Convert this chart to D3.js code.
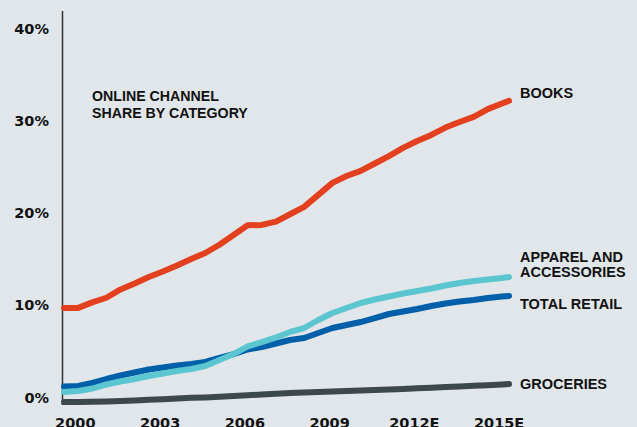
<!DOCTYPE html>
<html>
<head>
<meta charset="utf-8">
<script src="https://cdn.jsdelivr.net/npm/d3@7"></script>
<style>
  html, body { margin: 0; padding: 0; background: #e1e6ea; }
  svg { display: block; }
  text { font-family: "Liberation Sans", Arial, sans-serif; font-weight: 700; fill: #111; }
  .num { font-family: "DejaVu Sans", sans-serif; }
</style>
</head>
<body>
<script>
/* global d3 */

// half-year points, last one is the end of 2015
var years = [2000, 2000.5, 2001, 2001.5, 2002, 2002.5, 2003, 2003.5, 2004, 2004.5,
             2005, 2005.5, 2006, 2006.5, 2007, 2007.5, 2008, 2008.5, 2009, 2009.5,
             2010, 2010.5, 2011, 2011.5, 2012, 2012.5, 2013, 2013.5, 2014, 2014.5,
             2015, 2015.5, 2015.75];

var books = [10.2, 10.2, 10.8, 11.3, 12.2, 12.85, 13.55, 14.15, 14.8, 15.5,
             16.15, 17.05, 18.1, 19.15, 19.2, 19.55, 20.35, 21.15, 22.45, 23.75,
             24.5, 25.05, 25.85, 26.65, 27.55, 28.3, 28.95, 29.75, 30.35, 30.9,
             31.75, 32.35, 32.65];

var apparel = [1.08, 1.19, 1.46, 1.9, 2.22, 2.49, 2.82, 3.09, 3.36, 3.58,
               3.9, 4.55, 5.2, 6.02, 6.5, 7.0, 7.59, 8.02, 8.89, 9.65,
               10.19, 10.73, 11.11, 11.44, 11.76, 12.03, 12.3, 12.63, 12.9, 13.12,
               13.28, 13.44, 13.55];

var totalRetail = [1.68, 1.73, 2.06, 2.49, 2.87, 3.2, 3.52, 3.74, 3.96, 4.12,
                   4.34, 4.77, 5.2, 5.69, 5.96, 6.34, 6.72, 6.94, 7.48, 8.02,
                   8.35, 8.67, 9.1, 9.54, 9.81, 10.08, 10.4, 10.68, 10.9, 11.06,
                   11.27, 11.44, 11.5];

var groceries = [0.0, 0.0, 0.03, 0.06, 0.1, 0.17, 0.24, 0.31, 0.38, 0.45,
                 0.5, 0.58, 0.65, 0.73, 0.82, 0.9, 0.98, 1.03, 1.08, 1.14,
                 1.19, 1.25, 1.3, 1.36, 1.41, 1.48, 1.55, 1.62, 1.68, 1.75,
                 1.82, 1.9, 1.95];

var yTicks = [0, 10, 20, 30, 40];
var xTicks = [2000, 2003, 2006, 2009, 2012, 2015];
var xTickLabels = ['2000', '2003', '2006', '2009', '2012E', '2015E'];

var titleLines = ['ONLINE CHANNEL', 'SHARE BY CATEGORY'];

var series = [
  {name: ['GROCERIES'], values: groceries, color: '#3d474e', dy: 5},
  {name: ['TOTAL RETAIL'], values: totalRetail, color: '#005fa9', dy: 13},
  {name: ['APPAREL AND', 'ACCESSORIES'], values: apparel, color: '#5bc5d0', dy: -15.5},
  {name: ['BOOKS'], values: books, color: '#e3401f', dy: -3}
];

var width = 637, height = 427;

var svg = d3.select('body').append('svg')
  .attr('width', width)
  .attr('height', height);

svg.append('rect')
  .attr('width', width)
  .attr('height', height)
  .style('fill', '#e1e6ea');

var x = d3.scaleLinear().domain([2000, 2015.75]).range([64, 509]);
var y = d3.scaleLinear().domain([0, 40]).range([402, 33]);

// y axis: plain line + labels
svg.append('line')
  .attr('x1', 62.5).attr('x2', 62.5)
  .attr('y1', 11).attr('y2', 405)
  .style('stroke', '#333')
  .style('stroke-width', 1.5);

var yAxis = d3.axisLeft(y).tickValues(yTicks).tickSize(0).tickPadding(0)
  .tickFormat(function(d){ return d + '%'; });

var yg = svg.append('g')
  .attr('transform', 'translate(49,0)')
  .call(yAxis);
yg.select('.domain').remove();
yg.attr('font-family', null).attr('font-size', null);
yg.selectAll('text')
  .attr('class', 'num')
  .attr('dy', 0)
  .style('font-size', '14.5px')
  .style('fill', '#111');

// x labels sit in the middle of each year
var xg = svg.append('g').attr('class', 'x-labels');
xg.selectAll('text')
  .data(xTicks)
  .enter()
  .append('text')
    .attr('class', 'num')
    .attr('x', function(d){ return x(d + 0.4); })
    .attr('y', 428)
    .style('text-anchor', 'middle')
    .style('font-size', '14.5px')
    .text(function(d, i){ return xTickLabels[i]; });

// title
svg.append('g').selectAll('text')
  .data(titleLines)
  .enter()
  .append('text')
    .attr('x', 92)
    .attr('y', function(d, i){ return 101 + i * 16.5; })
    .style('font-size', '14.2px')
    .text(function(d){ return d; });

var line = d3.line()
  .x(function(d, i){ return x(years[i]); })
  .y(function(d){ return y(d); });

var lines = svg.append('g');

lines.selectAll('path')
  .data(series)
  .enter()
  .append('path')
    .attr('d', function(d){ return line(d.values); })
    .style('fill', 'none')
    .style('stroke', function(d){ return d.color; })
    .style('stroke-width', 6)
    .style('stroke-linecap', 'round')
    .style('stroke-linejoin', 'round');

// end labels
var last = years.length - 1;
svg.append('g').selectAll('text')
  .data(series)
  .enter()
  .append('text')
    .attr('x', x(years[last]) + 11)
    .attr('y', function(d){ return y(d.values[last]) + d.dy; })
    .style('font-size', '14.5px')
    .each(function(d){
      d3.select(this).selectAll('tspan')
        .data(d.name)
        .enter()
        .append('tspan')
          .attr('x', x(years[last]) + 11)
          .attr('dy', function(t, i){ return i ? 15.8 : 0; })
          .text(function(t){ return t; });
    });
</script>
</body>
</html>
